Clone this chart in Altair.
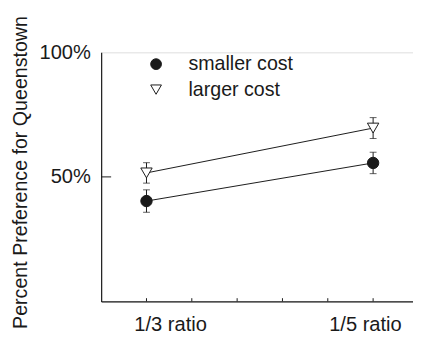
import altair as alt
import pandas as pd

conditions = ["1/3 ratio", "1/5 ratio"]
cond_pos = [1, 6]
label_pos = [1.52, 5.82]
series_names = ["smaller cost", "larger cost"]
smaller = [40.3, 55.6]
smaller_err = [4.5, 4.3]
larger = [51.6, 69.6]
larger_err = [4.1, 4.2]
x_minor_ticks = [1, 2, 3, 4, 5, 6]
y_ticks = [50, 100]

rows = []
for s, vals, errs in [(series_names[0], smaller, smaller_err), (series_names[1], larger, larger_err)]:
    for c, p, v, e in zip(conditions, cond_pos, vals, errs):
        rows.append({"series": s, "cond": c, "x": p, "y": v, "lo": v - e, "hi": v + e})
df = pd.DataFrame(rows)

FONT = "Liberation Sans"
INK = "#1a1a1a"

xscale = alt.Scale(domain=[0, 6.88], nice=False, zero=False)
yscale = alt.Scale(domain=[0, 100], nice=False)

label_expr = "datum.value < 3 ? '%s' : '%s'" % (conditions[0], conditions[1])

xaxis = alt.Axis(values=label_pos, labelExpr=label_expr, ticks=False, grid=False,
                 domain=True, domainColor=INK, domainWidth=1.2,
                 labelFontSize=20.5, labelFont=FONT, labelColor=INK, labelPadding=14,
                 title=None)
yaxis = alt.Axis(values=y_ticks, labelExpr="datum.value + '%'", ticks=False, grid=False,
                 domain=True, domainColor=INK, domainWidth=1.2,
                 labelFontSize=20.5, labelFont=FONT, labelColor=INK, labelPadding=11,
                 title="Percent Preference for Queenstown", titleFontSize=20,
                 titleFont=FONT, titleFontWeight="normal", titleColor=INK,
                 titleX=-82, titleY=122, titleAlign="center", titleBaseline="middle",
                 titleAngle=270)

base = alt.Chart(df)

lines = base.mark_line(color=INK, strokeWidth=1).encode(
    x=alt.X("x:Q", scale=xscale, axis=xaxis),
    y=alt.Y("y:Q", scale=yscale, axis=yaxis),
    detail="series:N",
)

err_rule = base.mark_rule(color=INK, strokeWidth=1).encode(
    x="x:Q", y="lo:Q", y2="hi:Q"
)
cap_lo = base.mark_tick(color=INK, orient="horizontal", size=7, thickness=1).encode(x="x:Q", y="lo:Q")
cap_hi = base.mark_tick(color=INK, orient="horizontal", size=7, thickness=1).encode(x="x:Q", y="hi:Q")

leg = alt.Legend(title=None, orient="none", legendX=46, legendY=2,
                 labelFontSize=20, labelFont=FONT, labelColor=INK,
                 symbolSize=120, symbolStrokeWidth=1,
                 labelOffset=23, rowPadding=6, padding=0)

points = base.mark_point(filled=False, opacity=1, strokeWidth=1).encode(
    x="x:Q",
    y="y:Q",
    shape=alt.Shape("series:N", scale=alt.Scale(domain=series_names, range=["circle", "triangle-down"]), legend=leg),
    fill=alt.Fill("series:N", scale=alt.Scale(domain=series_names, range=[INK, "white"]), legend=leg),
    stroke=alt.Stroke("series:N", scale=alt.Scale(domain=series_names, range=[INK, INK]), legend=leg),
    size=alt.value(135),
)

minor_df = pd.DataFrame({"t": x_minor_ticks, "y0": 0, "y1": 1.3})
minor = alt.Chart(minor_df).mark_rule(color=INK, strokeWidth=1).encode(
    x="t:Q", y="y0:Q", y2="y1:Q"
)

ytick_df = pd.DataFrame({"v": [50], "x0": 0, "x1": 0.22})
ytick = alt.Chart(ytick_df).mark_rule(color=INK, strokeWidth=1).encode(
    x="x0:Q", x2="x1:Q", y="v:Q"
)

chart = alt.layer(minor, ytick, lines, err_rule, cap_lo, cap_hi, points).properties(
    width=318, height=254,
    autosize=alt.AutoSizeParams(type="none"),
    padding={"left": 95, "top": 42, "right": 0, "bottom": 31},
).configure_view(stroke=None).configure(background="white")

chart.save("out.html", embed_options={"renderer": "svg", "actions": False})
